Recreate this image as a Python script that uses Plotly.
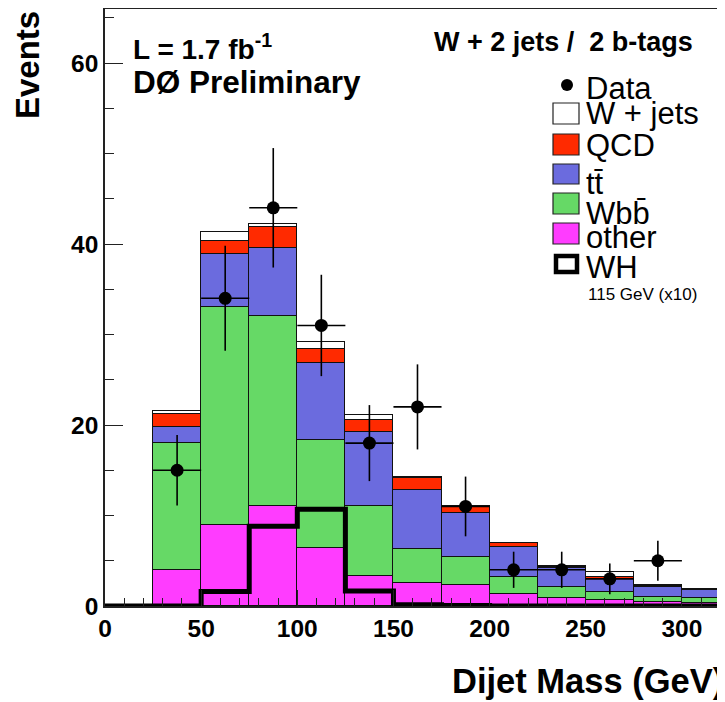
import plotly.graph_objects as go

# ---------------- data ----------------
bin_low = [0, 25, 50, 75, 100, 125, 150, 175, 200, 225, 250, 275, 300]
bin_width = 25
other = [0, 4.0, 8.95, 11.0, 6.45, 3.3, 2.5, 2.3, 1.3, 0.85, 0.65, 0.4, 0.35]
wbb = [0, 14.0, 24.05, 21.0, 11.9, 7.7, 3.75, 3.1, 1.95, 1.2, 0.95, 0.65, 0.5]
ttbar = [0, 1.8, 5.9, 7.6, 8.5, 8.2, 6.55, 4.9, 3.3, 2.1, 1.4, 1.1, 0.9]
qcd = [0, 1.4, 1.4, 2.3, 1.6, 1.3, 1.3, 0.7, 0.4, 0.2, 0.15, 0.05, 0.05]
wjets = [0, 0.3, 1.0, 0.3, 0.7, 0.6, 0.15, 0.1, 0.05, 0.05, 0.6, 0.1, 0.05]
wh_x10 = [0, 0, 1.6, 8.8, 10.7, 1.65, 0.15, 0.05, 0, 0, 0, 0, 0]

data_x = [37.5, 62.5, 87.5, 112.5, 137.5, 162.5, 187.5, 212.5, 237.5, 262.5, 287.5]
data_y = [15, 34, 44, 31, 18, 22, 11, 4, 4, 3, 5]
data_err = [3.9, 5.8, 6.6, 5.6, 4.2, 4.7, 3.3, 2.0, 2.0, 1.7, 2.2]

x_ticks = [0, 50, 100, 150, 200, 250, 300]
y_ticks = [0, 20, 40, 60]

# ---------------- style ----------------
FONT = "Liberation Sans, Arial, Helvetica, sans-serif"
C_OTHER = "#ff3cff"
C_WBB = "#66d966"
C_TT = "#6b6bde"
C_QCD = "#ff2a00"
C_WJ = "#ffffff"

OFF = 8                      # page body margin of the browser
W, H = 725, 702
# wanted plot area on screen: x 105 -> beyond right edge, y 9 -> 606
L, T = 105 - OFF, 9 - OFF
R = 0
B = H - (606 - OFF)
PW, PH = W - L - R, H - T - B
XMAX = PW / 1.923
YMAX = PH / 9.05

def px(sx):
    return (sx - OFF - L) / PW

def py(sy):
    return (H - B - (sy - OFF)) / PH

centers = [b + bin_width / 2 for b in bin_low]

fig = go.Figure()
for vals, col, name in [(other, C_OTHER, "other"), (wbb, C_WBB, "Wbb"),
                        (ttbar, C_TT, "tt"), (qcd, C_QCD, "QCD"),
                        (wjets, C_WJ, "W + jets")]:
    fig.add_trace(go.Bar(x=centers, y=vals, width=bin_width, name=name,
                         marker=dict(color=col, line=dict(color="#111111", width=1.2)),
                         hoverinfo="skip", showlegend=False))

edges = bin_low + [bin_low[-1] + bin_width]
fig.add_trace(go.Scatter(x=edges, y=wh_x10 + [wh_x10[-1]], mode="lines",
                         line=dict(color="black", width=5, shape="hv"),
                         hoverinfo="skip", showlegend=False, cliponaxis=True))

fig.add_trace(go.Scatter(x=data_x, y=data_y, mode="markers",
                         marker=dict(color="black", size=13),
                         error_y=dict(type="data", array=data_err, color="black",
                                      thickness=1.6, width=0),
                         error_x=dict(type="constant", value=bin_width / 2, color="black",
                                      thickness=1.6, width=0),
                         hoverinfo="skip", showlegend=False, cliponaxis=False))

fig.update_layout(
    width=W, height=H, barmode="stack", bargap=0,
    margin=dict(l=L, r=R, t=T, b=B, pad=0),
    paper_bgcolor="white", plot_bgcolor="white",
    font=dict(family=FONT, color="black"),
    showlegend=False,
)
fig.update_xaxes(range=[0, XMAX], showgrid=False, zeroline=False, layer="above traces",
                 showline=True, linecolor="#222222", linewidth=1.5, mirror=True,
                 ticks="inside", ticklen=16, tickwidth=1.3, tickcolor="#222222",
                 tickvals=x_ticks,
                 tickfont=dict(size=24.5, family=FONT, weight="bold"),
                 minor=dict(dtick=10, ticklen=8, ticks="inside", tickcolor="#222222", tickwidth=1.2))
fig.update_yaxes(range=[0, YMAX], showgrid=False, zeroline=False, layer="above traces",
                 showline=True, linecolor="#222222", linewidth=1.5, mirror=False,
                 ticks="inside", ticklen=18, tickwidth=1.3, tickcolor="#222222",
                 tickvals=y_ticks,
                 tickfont=dict(size=24.5, family=FONT, weight="bold"),
                 minor=dict(dtick=5, ticklen=9, ticks="inside", tickcolor="#222222", tickwidth=1.2))

ann = []
def text(x, y, s, size, bold=False, xanchor="left", yanchor="middle", angle=0):
    ann.append(dict(x=px(x), y=py(y), xref="paper", yref="paper", text=s,
                    showarrow=False, xanchor=xanchor, yanchor=yanchor, textangle=angle,
                    font=dict(size=size, family=FONT, color="black",
                              weight="bold" if bold else "normal")))

text(131, 47, "L = 1.7 fb<sup>-1</sup>", 28, bold=True)
text(131, 82, "DØ Preliminary", 31.5, bold=True)
text(563, 42, "W + 2 jets /\u00a0 2 b-tags", 27, bold=True, xanchor="center")
text(27, 9, "Events", 33, bold=True, xanchor="center", yanchor="top", angle=-90)
text(450, 681, "Dijet Mass (GeV)", 34.5, bold=True)

# legend (drawn by hand)
shapes = []
shapes.append(dict(type="circle", xref="paper", yref="paper",
                   x0=px(561), x1=px(573), y0=py(79), y1=py(91),
                   fillcolor="black", line=dict(color="black", width=0)))
boxes = [(103, 124, C_WJ), (134, 155, C_QCD), (164, 184, C_TT),
         (193, 214, C_WBB), (223, 244, C_OTHER)]
for y0, y1, col in boxes:
    shapes.append(dict(type="rect", xref="paper", yref="paper",
                       x0=px(553), x1=px(579), y0=py(y1), y1=py(y0),
                       fillcolor=col, line=dict(color="#222222", width=1.2)))
shapes.append(dict(type="rect", xref="paper", yref="paper",
                   x0=px(556), x1=px(577), y0=py(272), y1=py(256),
                   fillcolor="white", line=dict(color="black", width=4.5)))

text(584, 88, "Data", 31)
text(584, 114, "W + jets", 31)
text(584, 146, "QCD", 31)
text(584, 183, "tt\u0304", 31)
text(584, 213, "Wbb\u0304", 31)
text(584, 237, "other", 31)
text(584, 267, "WH", 31)
text(586, 294, "115 GeV (x10)", 17)

fig.update_layout(annotations=ann, shapes=shapes)
fig.write_html("out.html")
